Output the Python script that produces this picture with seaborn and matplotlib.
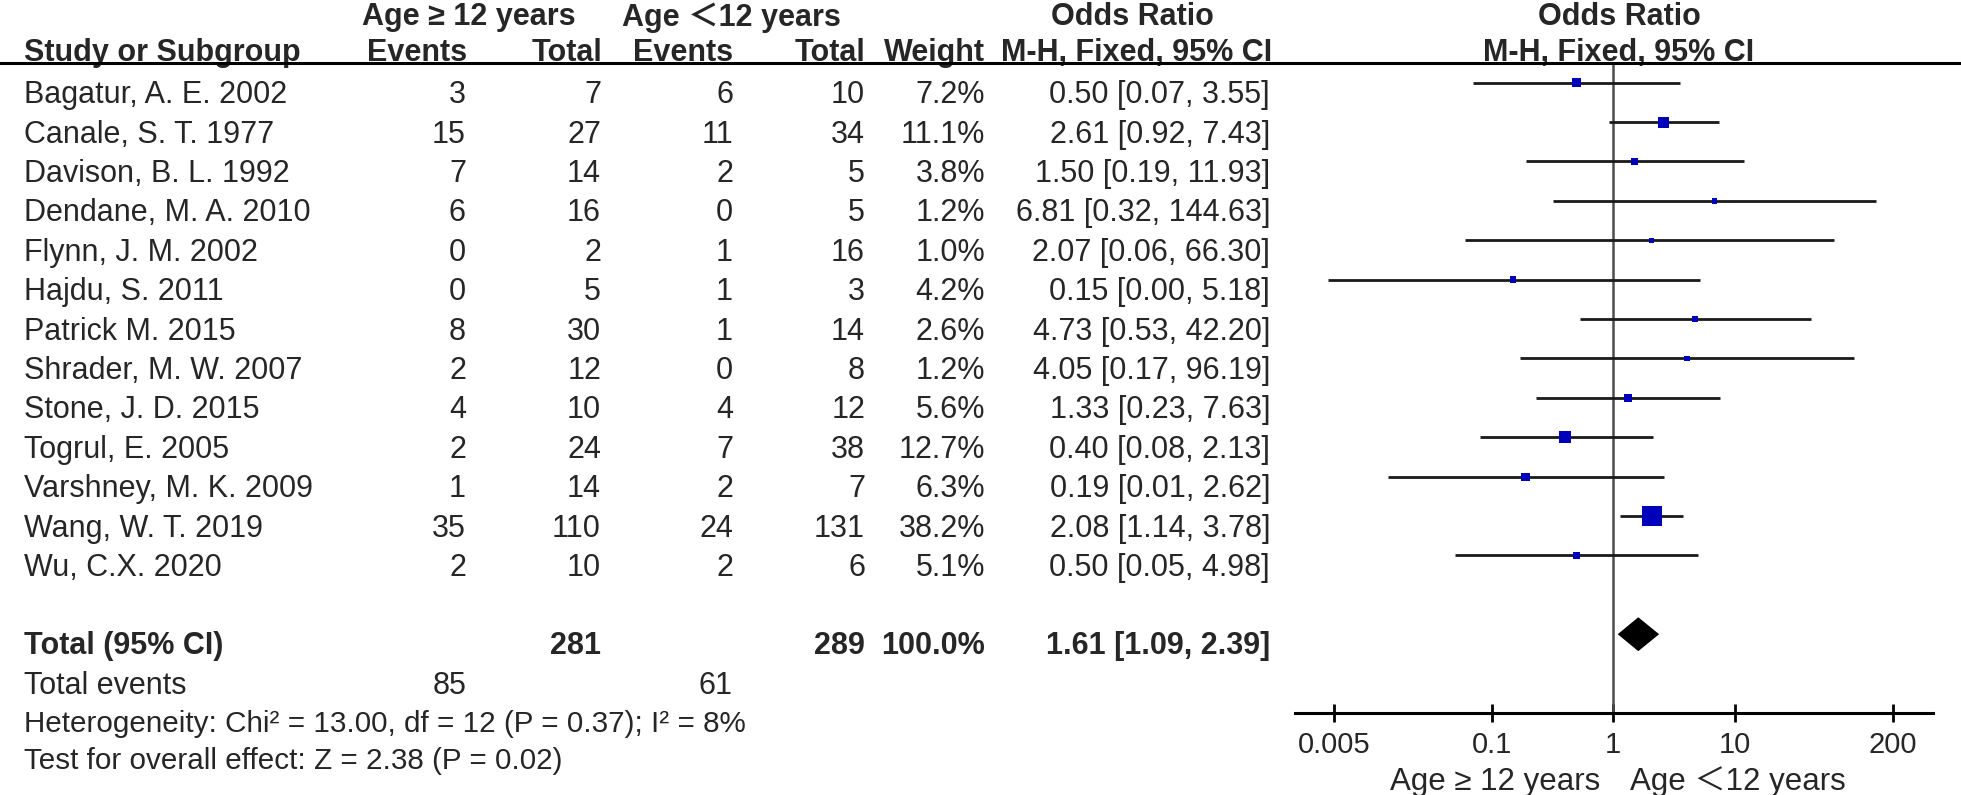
import numpy as np
import matplotlib.pyplot as plt
import matplotlib.transforms as mtransforms
from matplotlib.lines import Line2D
import seaborn as sns

# =============================================================================
# Data
# =============================================================================
studies = ['Bagatur, A. E. 2002', 'Canale, S. T. 1977', 'Davison, B. L. 1992',
           'Dendane, M. A. 2010', 'Flynn, J. M. 2002', 'Hajdu, S. 2011',
           'Patrick M. 2015', 'Shrader, M. W. 2007', 'Stone, J. D. 2015',
           'Togrul, E. 2005', 'Varshney, M. K. 2009', 'Wang, W. T. 2019',
           'Wu, C.X. 2020']
events_old = [3, 15, 7, 6, 0, 0, 8, 2, 4, 2, 1, 35, 2]
total_old = [7, 27, 14, 16, 2, 5, 30, 12, 10, 24, 14, 110, 10]
events_young = [6, 11, 2, 0, 1, 1, 1, 0, 4, 7, 2, 24, 2]
total_young = [10, 34, 5, 5, 16, 3, 14, 8, 12, 38, 7, 131, 6]
weights = [7.2, 11.1, 3.8, 1.2, 1.0, 4.2, 2.6, 1.2, 5.6, 12.7, 6.3, 38.2, 5.1]
odds = [0.50, 2.61, 1.50, 6.81, 2.07, 0.15, 4.73, 4.05, 1.33, 0.40, 0.19,
        2.08, 0.50]
ci_low = [0.07, 0.92, 0.19, 0.32, 0.06, 0.0045, 0.53, 0.17, 0.23, 0.08,
          0.014, 1.14, 0.05]
ci_high = [3.55, 7.43, 11.93, 144.63, 66.30, 5.18, 42.20, 96.19, 7.63, 2.13,
           2.62, 3.78, 4.98]

total_or, total_low, total_high = 1.61, 1.09, 2.39
total_n_old, total_n_young = 281, 289
total_weight = 100.0
total_ev_old, total_ev_young = 85, 61
tick_values = [0.005, 0.1, 1, 10, 200]
tick_labels = ['0.005', '0.1', '1', '10', '200']
heterogeneity = 'Heterogeneity: Chi² = 13.00, df = 12 (P = 0.37); I² = 8%'
overall = 'Test for overall effect: Z = 2.38 (P = 0.02)'

rows = np.arange(len(studies))
total_row = len(studies) + 1

# =============================================================================
# Figure
# =============================================================================
sns.set_theme(style='white')
plt.rcParams['font.family'] = ['Liberation Sans', 'Noto Sans CJK SC',
                               'DejaVu Sans']

W, H = 1961, 795
fig = plt.figure(figsize=(W / 100, H / 100), dpi=100)
ax = fig.add_axes([1295 / W, 1 - 713 / H, (1933 - 1295) / W, (713 - 63) / H])
ax.set_xscale('log')
ax.set_xlim(0.0024, 430)
ax.set_ylim(16, -0.5)

# confidence intervals and boxes
ax.hlines(rows, ci_low, ci_high, color='#1a1a1a', lw=2.0, zorder=2)
side_px = np.maximum(3.25 * np.sqrt(weights), 5.5)
sns.scatterplot(x=odds, y=rows, marker='s', s=(side_px * 0.72) ** 2,
                color='#0000bb', edgecolor='none', linewidth=0, ax=ax,
                zorder=3, legend=False)

# total diamond
ax.fill([total_low, total_or, total_high, total_or],
        [total_row, total_row - 0.43, total_row, total_row + 0.43],
        color='black', lw=0, zorder=3)

ax.axvline(1, color='#4d4d4d', lw=1.8, zorder=1)

for s in ['top', 'right', 'left']:
    ax.spines[s].set_visible(False)
ax.spines['bottom'].set_linewidth(2.2)
ax.spines['bottom'].set_color('black')
ax.set_xticks(tick_values)
ax.set_xticklabels(tick_labels)
ax.minorticks_off()
ax.tick_params(axis='x', bottom=True, direction='inout', length=13.5,
               width=2.0, color='black', labelsize=21, pad=6.5)
ax.tick_params(axis='y', left=False, labelleft=False)

ax.text(0.78, 17.74, 'Age ≥ 12 years', ha='right', va='center',
        fontsize=22.5, clip_on=False)
ax.text(1.38, 17.74, 'Age ＜12 years', ha='left', va='center',
        fontsize=22.5, clip_on=False)

# =============================================================================
# Table
# =============================================================================
tr = mtransforms.blended_transform_factory(fig.transFigure, ax.transData)


def put(x_px, y, txt, ha='right', bold=False, size=22):
    ax.text(x_px / W, y, txt, transform=tr, ha=ha, va='center',
            fontsize=size, fontweight='bold' if bold else 'normal',
            clip_on=False)


head1, head2 = -1.66, -0.75
put(469, head1, 'Age ≥ 12 years', ha='center', bold=True)
put(731, head1, 'Age ＜12 years', ha='center', bold=True)
put(1132, head1, 'Odds Ratio', ha='center', bold=True)
put(1619, head1, 'Odds Ratio', ha='center', bold=True)
put(24, head2, 'Study or Subgroup', ha='left', bold=True)
put(467, head2, 'Events', bold=True)
put(602, head2, 'Total', bold=True)
put(733, head2, 'Events', bold=True)
put(865, head2, 'Total', bold=True)
put(985, head2, 'Weight', bold=True)
put(1272, head2, 'M-H, Fixed, 95% CI', bold=True)
put(1619, head2, 'M-H, Fixed, 95% CI', ha='center', bold=True)

fig.add_artist(Line2D([0, 1], [-0.5, -0.5], transform=tr, color='black',
                      lw=2.2, clip_on=False))

for i in rows:
    y = i + 0.32
    put(24, y, studies[i], ha='left')
    put(466, y, str(events_old[i]))
    put(601, y, str(total_old[i]))
    put(733, y, str(events_young[i]))
    put(865, y, str(total_young[i]))
    put(985, y, f'{weights[i]:.1f}%')
    put(1270, y, f'{odds[i]:.2f} [{ci_low[i]:.2f}, {ci_high[i]:.2f}]')

y = total_row + 0.3
put(24, y, 'Total (95% CI)', ha='left', bold=True)
put(601, y, str(total_n_old), bold=True)
put(865, y, str(total_n_young), bold=True)
put(985, y, f'{total_weight:.1f}%', bold=True)
put(1270, y, f'{total_or:.2f} [{total_low:.2f}, {total_high:.2f}]', bold=True)

put(24, 15.31, 'Total events', ha='left')
put(466, 15.31, str(total_ev_old))
put(733, 15.31, str(total_ev_young))
put(24, 16.27, heterogeneity, ha='left', size=21.3)
put(24, 17.23, overall, ha='left', size=21.3)

fig.savefig('out.png', dpi=100, facecolor='white')
